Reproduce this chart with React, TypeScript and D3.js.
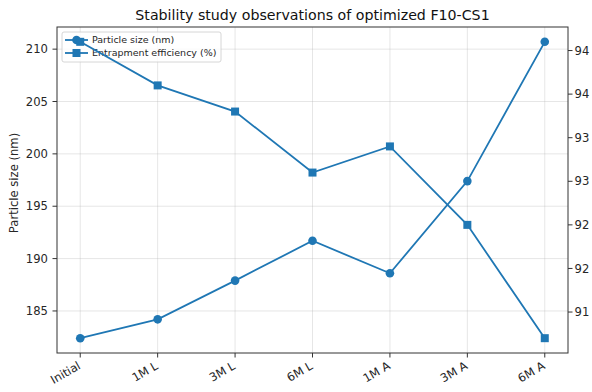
import React from "react";
import * as d3 from "d3";

// Stability study: particle size (left axis) and entrapment efficiency (right axis)
const categories = ["Initial", "1M L", "3M L", "6M L", "1M A", "3M A", "6M A"];
const particleSize = [182.4, 184.2, 187.9, 191.7, 188.6, 197.4, 210.7];
const entrapment = [94.1, 93.6, 93.3, 92.6, 92.9, 92.0, 90.7];
const leftTicks = [185, 190, 195, 200, 205, 210];
const rightTicks = [91, 91.5, 92, 92.5, 93, 93.5, 94];

const W = 592;
const H = 392;
const M = { left: 57, right: 568, top: 27, bottom: 353 };
const COLOR = "#1f77b4";
const FONT = "DejaVu Sans, sans-serif";
const TXT = "#262626";
const TICK_FS = 11.6;

function padded(vals: number[]): [number, number] {
  const lo = d3.min(vals)!;
  const hi = d3.max(vals)!;
  const m = (hi - lo) * 0.05;
  return [lo - m, hi + m];
}

export default function App() {
  const x = d3.scalePoint<string>().domain(categories).range([M.left, M.right]).padding(0.3);
  const yL = d3.scaleLinear().domain(padded(particleSize)).range([M.bottom, M.top]);
  const yR = d3.scaleLinear().domain(padded(entrapment)).range([M.bottom, M.top]);
  const fmtR = d3.format(".0f");

  const lineL = d3
    .line<number>()
    .x((_, i) => x(categories[i])!)
    .y((d) => yL(d));
  const lineR = d3
    .line<number>()
    .x((_, i) => x(categories[i])!)
    .y((d) => yR(d));

  return (
    <svg width={W} height={H} style={{ display: "block", position: "absolute", left: 0, top: 0 }} fontFamily={FONT}>
      <rect width={W} height={H} fill="#fff" />
      <text x={(M.left + M.right) / 2} y={20} textAnchor="middle" fontSize={14.2} fill="#111">
        Stability study observations of optimized F10-CS1
      </text>

      {/* grid */}
      <g stroke="#b0b0b0" strokeOpacity={0.4} strokeWidth={0.8}>
        {categories.map((c) => (
          <line key={c} x1={x(c)} x2={x(c)} y1={M.top} y2={M.bottom} />
        ))}
        {leftTicks.map((t) => (
          <line key={t} x1={M.left} x2={M.right} y1={yL(t)} y2={yL(t)} />
        ))}
      </g>

      {/* particle size series (primary axes) */}
      <path d={lineL(particleSize)!} fill="none" stroke={COLOR} strokeWidth={1.8} />
      {particleSize.map((v, i) => (
        <circle key={i} cx={x(categories[i])} cy={yL(v)} r={4.3} fill={COLOR} />
      ))}

      {/* legend (belongs to the primary axes) */}
      <g>
        <rect x={62} y={32} width={159} height={30} rx={2} fill="#fff" fillOpacity={0.8} stroke="#ccc" strokeWidth={0.8} />
        <line x1={65} x2={88} y1={40} y2={40} stroke={COLOR} strokeWidth={1.8} />
        <circle cx={76.5} cy={40} r={4.3} fill={COLOR} />
        <text x={92} y={40} dy="0.35em" fontSize={9.5} fill={TXT}>
          Particle size (nm)
        </text>
        <line x1={65} x2={88} y1={53} y2={53} stroke={COLOR} strokeWidth={1.8} />
        <rect x={72.5} y={49} width={8} height={8} fill={COLOR} />
        <text x={92} y={53} dy="0.35em" fontSize={9.5} fill={TXT}>
          Entrapment efficiency (%)
        </text>
      </g>

      {/* entrapment series (twin axes, drawn on top) */}
      <path d={lineR(entrapment)!} fill="none" stroke={COLOR} strokeWidth={1.8} />
      {entrapment.map((v, i) => (
        <rect key={i} x={x(categories[i])! - 4} y={yR(v) - 4} width={8} height={8} fill={COLOR} />
      ))}

      {/* frame */}
      <rect
        x={M.left}
        y={M.top}
        width={M.right - M.left}
        height={M.bottom - M.top}
        fill="none"
        stroke="#333"
        strokeWidth={1}
      />

      {/* left axis */}
      {leftTicks.map((t) => (
        <g key={t} transform={`translate(${M.left},${yL(t)})`}>
          <line x1={-4.5} x2={0} stroke="#333" />
          <text x={-9} dy="0.35em" textAnchor="end" fontSize={TICK_FS} fill={TXT}>
            {t}
          </text>
        </g>
      ))}
      <text
        transform={`translate(14,${183}) rotate(-90)`}
        dy="0.35em"
        textAnchor="middle"
        fontSize={TICK_FS}
        fill={TXT}
      >
        Particle size (nm)
      </text>

      {/* right axis */}
      {rightTicks.map((t) => (
        <g key={t} transform={`translate(${M.right},${yR(t)})`}>
          <line x1={0} x2={4.5} stroke="#333" />
          <text x={6.5} dy="0.35em" textAnchor="start" fontSize={TICK_FS} fill={TXT}>
            {fmtR(t)}
          </text>
        </g>
      ))}

      {/* x axis */}
      {categories.map((c) => (
        <g key={c}>
          <line x1={x(c)} x2={x(c)} y1={M.bottom} y2={M.bottom + 4.5} stroke="#333" />
          <text
            transform={`translate(${x(c)! - 3},${M.bottom + 8}) rotate(-30)`}
            dy="0.71em"
            textAnchor="end"
            fontSize={TICK_FS}
            fill={TXT}
          >
            {c}
          </text>
        </g>
      ))}
    </svg>
  );
}
